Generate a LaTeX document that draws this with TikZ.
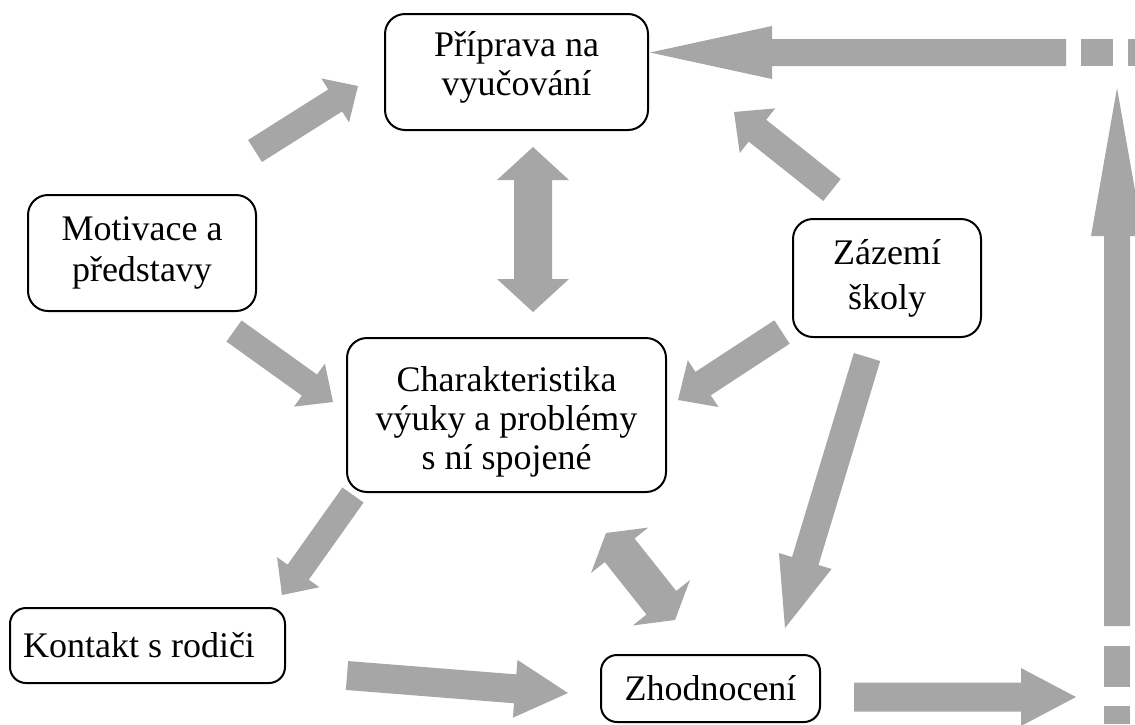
\documentclass[tikz,border=0pt]{standalone}
\usepackage{fontspec}
\setmainfont{Liberation Serif}
\usetikzlibrary{calc}
\definecolor{arrowgray}{RGB}{166,166,166}
\newcommand\blockarrow[5]{% tail, tip, half shaft, half head, head length
  \path coordinate (hb) at ($(#2)!#5!(#1)$);
  \fill[arrowgray] ($(#1)!#3!90:(#2)$) -- ($(hb)!#3!90:(#2)$) -- ($(hb)!#4!90:(#2)$) -- (#2)
    -- ($(hb)!#4!-90:(#2)$) -- ($(hb)!#3!-90:(#2)$) -- ($(#1)!#3!-90:(#2)$) -- cycle;
}
\newcommand\dblarrow[5]{% tip A, tip B, half shaft, half head, head length
  \path coordinate (ha) at ($(#1)!#5!(#2)$) coordinate (hbb) at ($(#2)!#5!(#1)$);
  \fill[arrowgray] (#1) -- ($(ha)!#4!90:(#2)$) -- ($(ha)!#3!90:(#2)$) -- ($(hbb)!#3!90:(#2)$)
    -- ($(hbb)!#4!90:(#2)$) -- (#2) -- ($(hbb)!#4!-90:(#2)$) -- ($(hbb)!#3!-90:(#2)$)
    -- ($(ha)!#3!-90:(#2)$) -- ($(ha)!#4!-90:(#2)$) -- cycle;
}
\tikzset{
  txt/.style={align=center, inner sep=0pt, font=\fontsize{18}{19.5}\selectfont},
  box/.style={txt, draw=black, line width=1pt, rounded corners=10pt}
}
\begin{document}
\begin{tikzpicture}[x=0.5pt,y=-0.5pt]
\useasboundingbox (0,0) rectangle (1135,724);
% boxes
\node[box, minimum width=131.5pt, minimum height=58pt] (prip) at (516.5,72) {};
\node[txt] (priptext) at (516.5,67) {Příprava na\\vyučování};
\node[box, minimum width=114pt, minimum height=58pt] (motiv) at (142,253) {Motivace a\\[1pt]představy};
\node[box, minimum width=159.5pt, minimum height=77pt] (char) at (506.5,415) {};
\node[txt] (chartext) at (506.5,422) {Charakteristika\\výuky a problémy\\s ní spojené};
\node[box, minimum width=94pt, minimum height=59pt] (zaz) at (887,278) {Zázemí\\[3pt]školy};
\node[box, minimum width=137.5pt, minimum height=37.5pt, rounded corners=8pt] (kont) at (147.5,645.5) {};
\node[txt] (konttext) at (139,645.5) {Kontakt s rodiči};
\node[box, minimum width=109.5pt, minimum height=33.5pt, rounded corners=8pt] (zhod) at (710.5,688.5) {Zhodnocení};
% arrow endpoints
\coordinate (a1t) at (255,151);  \coordinate (a1h) at (358,86);
\coordinate (a2t) at (1066,52.5); \coordinate (a2h) at (650,52.5);
\coordinate (a3t) at (1117,626); \coordinate (a3h) at (1117,88);
\coordinate (a4t) at (854,697);  \coordinate (a4h) at (1076,697);
\coordinate (a5t) at (347,675.5); \coordinate (a5h) at (568,693);
\coordinate (a6a) at (533,147);  \coordinate (a6b) at (533,312);
\coordinate (a7t) at (832,190);  \coordinate (a7h) at (734,112);
\coordinate (a8t) at (782,332);  \coordinate (a8h) at (678,400);
\coordinate (a9t) at (867,357);  \coordinate (a9h) at (785,628);
\coordinate (a10t) at (234,331); \coordinate (a10h) at (333,402);
\coordinate (a11t) at (353,495); \coordinate (a11h) at (282,595);
\coordinate (a12a) at (606,533); \coordinate (a12b) at (675,620);
% arrows
\blockarrow{a1t}{a1h}{6.5pt}{13pt}{13.5pt}
\blockarrow{a2t}{a2h}{6.75pt}{13.25pt}{61pt}
\blockarrow{a3t}{a3h}{6.5pt}{13pt}{74pt}
\blockarrow{a4t}{a4h}{7.25pt}{14.5pt}{27.5pt}
\blockarrow{a5t}{a5h}{7.25pt}{14.5pt}{26.5pt}
\dblarrow{a6a}{a6b}{9.5pt}{18pt}{16.5pt}
\blockarrow{a7t}{a7h}{7pt}{14.25pt}{15pt}
\blockarrow{a8t}{a8h}{7pt}{14pt}{15pt}
\blockarrow{a9t}{a9h}{6.9pt}{13.75pt}{35pt}
\blockarrow{a10t}{a10h}{6.5pt}{13.25pt}{14.5pt}
\blockarrow{a11t}{a11h}{6.5pt}{13pt}{14pt}
\dblarrow{a12a}{a12b}{9.5pt}{18.25pt}{11pt}
% dashed continuation
\fill[arrowgray] (1081,39) rectangle (1113,66);
\fill[arrowgray] (1128,39) rectangle (1135,66);
\fill[arrowgray] (1104,646) rectangle (1130,687);
\fill[arrowgray] (1104,706) rectangle (1130,724);
\end{tikzpicture}
\end{document}
